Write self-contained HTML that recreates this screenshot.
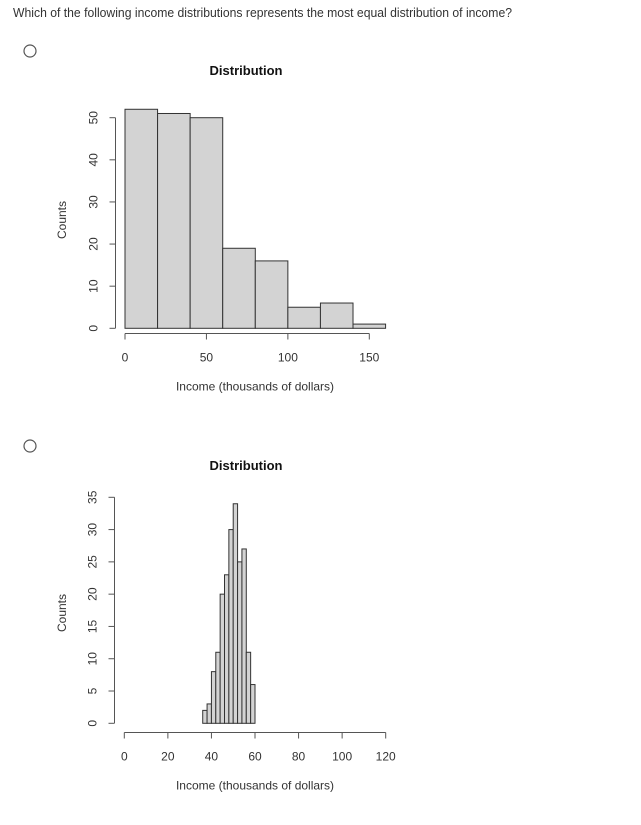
<!DOCTYPE html>
<html><head><meta charset="utf-8"><style>
html,body{margin:0;padding:0;background:#fff;}
svg{display:block;font-family:"Liberation Sans",Arial,sans-serif;}
</style></head><body>
<svg id="s" width="641" height="825">
<text x="13" y="17" font-size="13" fill="#333" textLength="499" lengthAdjust="spacingAndGlyphs">Which of the following income distributions represents the most equal distribution of income?</text>
<circle cx="30" cy="51" r="6" fill="#fff" stroke="#555" stroke-width="1.2"/>
<circle cx="30" cy="446" r="6" fill="#fff" stroke="#555" stroke-width="1.2"/>
<g id="c1"></g>
<g id="c2"></g>
</svg>
<script>
const NS="http://www.w3.org/2000/svg";
// Chart 1 data
const bins1=[0,20,40,60,80,100,120,140,160];
const counts1=[52,51,50,19,16,5,6,1];
const xticks1=[0,50,100,150];
const yticks1=[0,10,20,30,40,50];
// Chart 2 data
const bins2=[36,38,40,42,44,46,48,50,52,54,56,58,60];
const counts2=[2,3,8,11,20,23,30,34,25,27,11,6];
const xticks2=[0,20,40,60,80,100,120];
const yticks2=[0,5,10,15,20,25,30,35];

function mk(p,tag,a,txt){const e=document.createElementNS(NS,tag);for(const k in a)e.setAttribute(k,a[k]);if(txt!==undefined)e.textContent=txt;p.appendChild(e);return e;}

function draw(g,cfg){
  const X=v=>cfg.x0+(v-cfg.xmin)*(cfg.x1-cfg.x0)/(cfg.xmax-cfg.xmin);
  const Y=v=>cfg.y0-(v-cfg.ymin)*(cfg.y0-cfg.y1)/(cfg.ymax-cfg.ymin);
  let t=mk(g,'text',{x:246,y:cfg.titleY,'font-size':13,'font-weight':'bold','text-anchor':'middle',fill:'#111'},'Distribution');
  
  
  cfg.counts.forEach((c,i)=>{
    const r=mk(g,'rect',{x:X(cfg.bins[i]),y:Y(c),width:X(cfg.bins[i+1])-X(cfg.bins[i]),height:Y(0)-Y(c),fill:'#d3d3d3',stroke:'#333','stroke-width':1});
    
    
  });
  const ax=cfg.yAxisX;
  let yl=mk(g,'line',{x1:ax,x2:ax,y1:Y(cfg.yticks[0]),y2:Y(cfg.yticks[cfg.yticks.length-1]),stroke:'#555'});
  
  
  cfg.yticks.forEach(v=>{
    mk(g,'line',{x1:ax-6,x2:ax,y1:Y(v),y2:Y(v),stroke:'#555'});
    const tx=mk(g,'text',{x:0,y:0,'font-size':12,'text-anchor':'middle',fill:'#333',transform:`translate(${ax-18},${Y(v)}) rotate(-90)`},v);
    
    
  });
  const ay=cfg.xAxisY;
  let xl=mk(g,'line',{x1:X(cfg.xticks[0]),x2:X(cfg.xticks[cfg.xticks.length-1]),y1:ay,y2:ay,stroke:'#555'});
  
  
  cfg.xticks.forEach(v=>{
    mk(g,'line',{x1:X(v),x2:X(v),y1:ay,y2:ay+6,stroke:'#555'});
    const tx=mk(g,'text',{x:X(v),y:ay+28,'font-size':12,'text-anchor':'middle',fill:'#333'},v);
    
    
  });
  const xt=mk(g,'text',{x:255,y:ay+57,'font-size':12,'text-anchor':'middle',fill:'#333'},'Income (thousands of dollars)');
  
  
  const yt=mk(g,'text',{x:0,y:0,'font-size':12,'text-anchor':'middle',fill:'#333',transform:`translate(66,${cfg.countsY}) rotate(-90)`},'Counts');
  
  
}
draw(document.getElementById('c1'),{bins:bins1,counts:counts1,xticks:xticks1,yticks:yticks1,
  xmin:0,xmax:150,x0:125,x1:369.3,ymin:0,ymax:50,y0:328.3,y1:117.7,yAxisX:115.5,xAxisY:333.5,titleY:75,countsY:220});
draw(document.getElementById('c2'),{bins:bins2,counts:counts2,xticks:xticks2,yticks:yticks2,
  xmin:0,xmax:120,x0:124.3,x1:385.7,ymin:0,ymax:35,y0:723.3,y1:497.3,yAxisX:114.5,xAxisY:732.5,titleY:470,countsY:613});
</script>
</body></html>
